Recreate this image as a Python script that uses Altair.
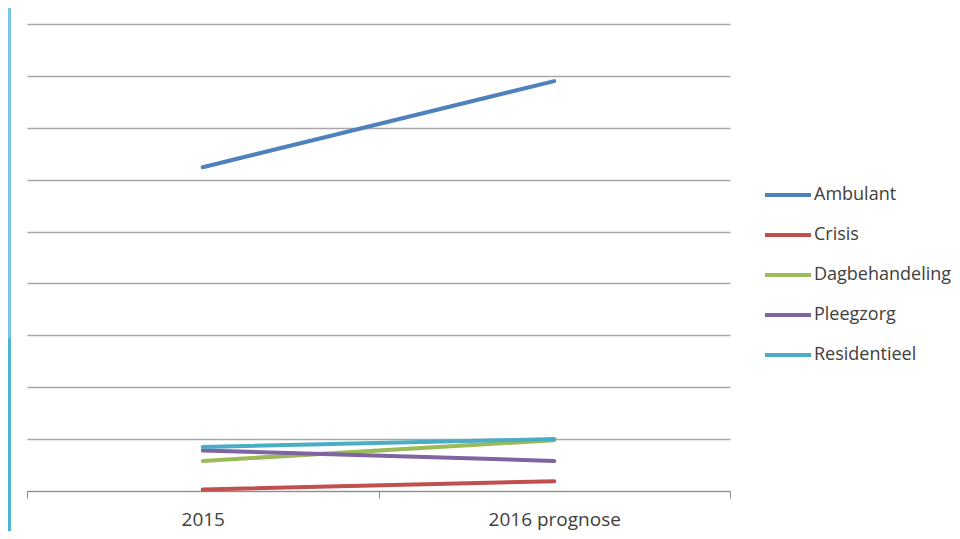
import altair as alt
import pandas as pd

categories = ["2015", "2016 prognose"]
series = ["Ambulant", "Crisis", "Dagbehandeling", "Pleegzorg", "Residentieel"]
ambulant = [62.4, 79.0]
crisis = [0.3, 1.9]
dagbehandeling = [5.8, 9.8]
pleegzorg = [7.8, 5.8]
residentieel = [8.5, 10.0]
colors = ["#4F81BD", "#C0504D", "#9BBB59", "#8064A2", "#4BACC6"]

values = [ambulant, crisis, dagbehandeling, pleegzorg, residentieel]
rows = []
for s, vals in zip(series, values):
    for i, (c, v) in enumerate(zip(categories, vals)):
        rows.append({"serie": s, "categorie": c, "pos": i + 0.5, "waarde": v})
df = pd.DataFrame(rows)

label_expr = " : ".join(
    [f"datum.value === {i + 0.5} ? '{c}'" for i, c in enumerate(categories)]
) + " : ''"

lines = alt.Chart(df).mark_line(strokeWidth=4, strokeCap="round").encode(
    x=alt.X(
        "pos:Q",
        scale=alt.Scale(domain=[0, len(categories)], nice=False, zero=False),
        axis=alt.Axis(
            values=[0, 0.5, 1, 1.5, 2],
            labelExpr=label_expr,
            title=None,
            grid=False,
            tickSize=7,
            tickColor="#8C8C8C",
            tickOpacity={"condition": {"test": "datum.value % 1 === 0", "value": 1}, "value": 0},
            domainColor="#8C8C8C",
            domainWidth=1.2,
            labelFont="Open Sans",
            labelFontSize=19,
            labelColor="#404040",
            labelPadding=12,
            labelFlush=False,
        ),
    ),
    y=alt.Y(
        "waarde:Q",
        scale=alt.Scale(domain=[0, 90], nice=False),
        axis=alt.Axis(
            values=list(range(0, 100, 10)),
            labels=False,
            ticks=False,
            domain=False,
            title=None,
            gridColor="#ABA7AB",
            gridWidth=1.6,
        ),
    ),
    color=alt.Color(
        "serie:N",
        scale=alt.Scale(domain=series, range=colors),
        legend=alt.Legend(
            title=None,
            orient="none",
            legendX=736,
            legendY=152,
            symbolType="stroke",
            symbolSize=2116,
            symbolStrokeWidth=4,
            clipHeight=38,
            rowPadding=2,
            labelFont="Open Sans",
            labelFontSize=18,
            labelColor="#404040",
            labelOffset=1,
            padding=0,
            labelLimit=300,
        ),
    ),
    order="pos:Q",
)

strip = pd.DataFrame({"k": ["a", "b"]})
deco_top = alt.Chart(strip.iloc[[0]]).mark_rect(color="#7DC3E6").encode(
    x=alt.value(-19), x2=alt.value(-16), y=alt.value(-16), y2=alt.value(314)
)
deco_bot = alt.Chart(strip.iloc[[1]]).mark_rect(color="#52B4D4").encode(
    x=alt.value(-19), x2=alt.value(-16), y=alt.value(314), y2=alt.value(515)
)

chart = alt.layer(lines, deco_top, deco_bot).properties(
    width=703,
    height=467,
    padding={"left": 19, "top": 16, "right": 222, "bottom": 40},
    autosize=alt.AutoSizeParams(type="none"),
).configure(background="white").configure_view(stroke=None)

chart.save("out.html", embed_options={"renderer": "svg", "actions": False})
